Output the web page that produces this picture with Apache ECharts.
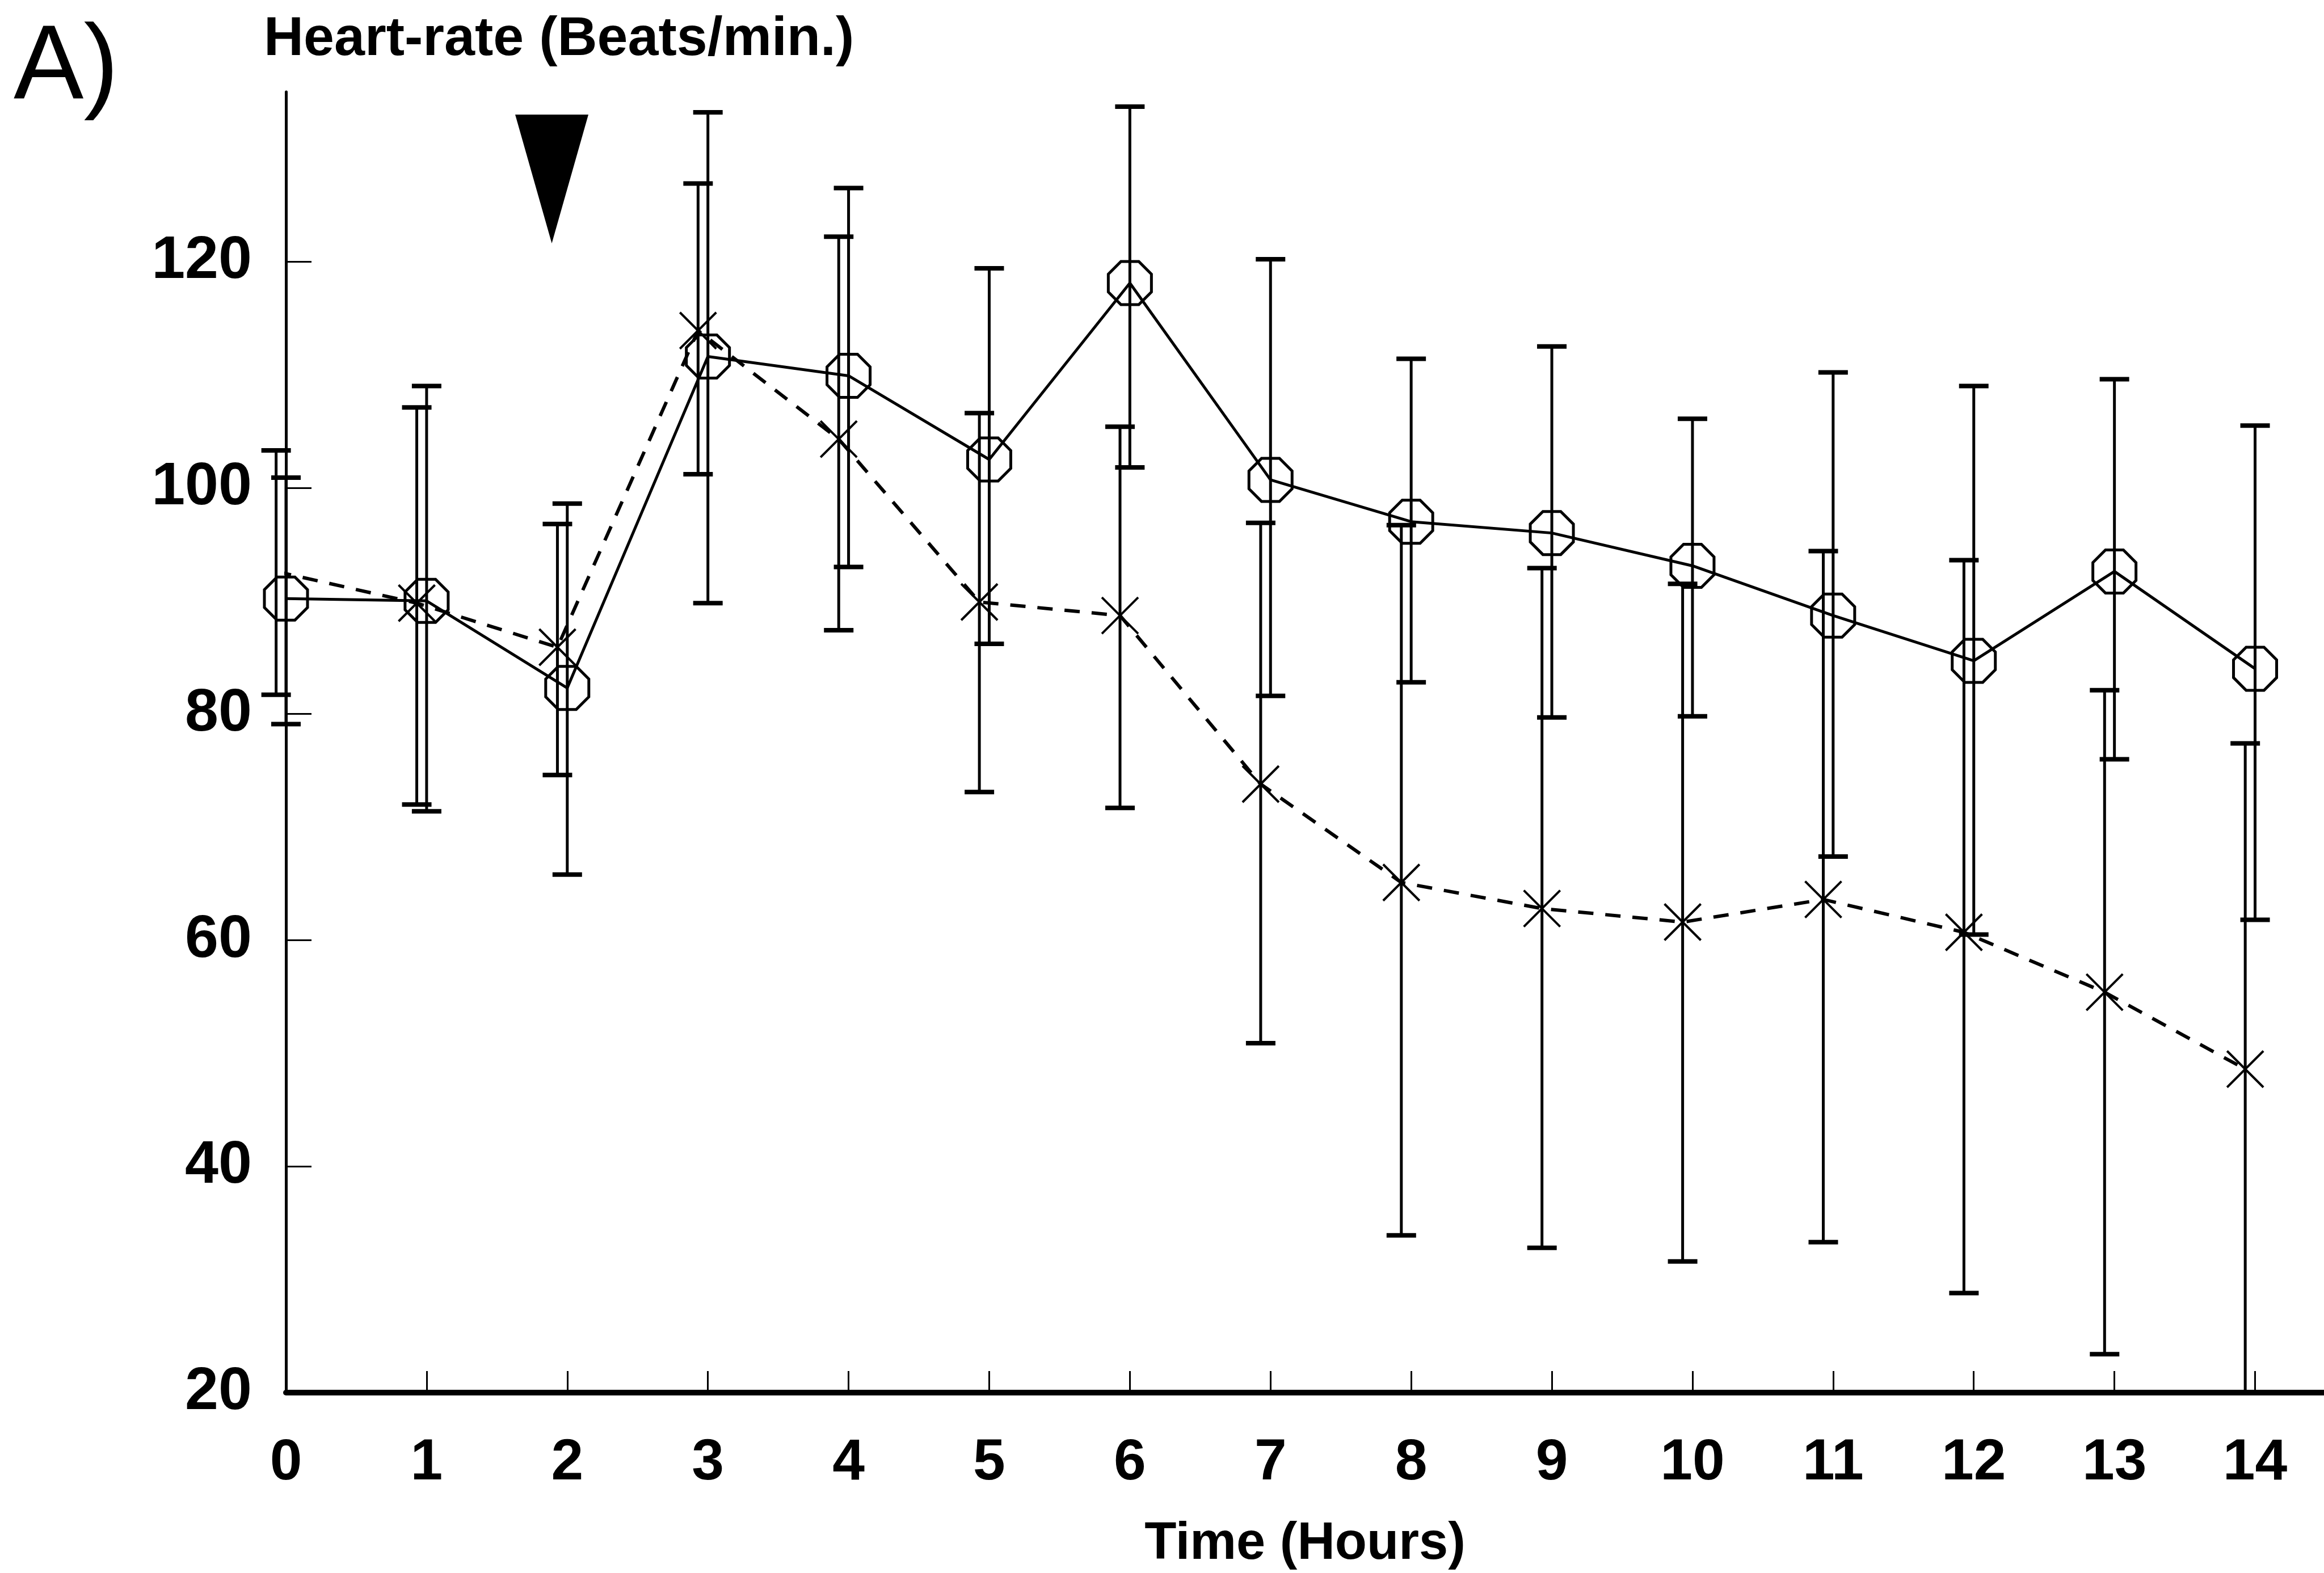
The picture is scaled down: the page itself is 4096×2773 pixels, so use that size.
<!DOCTYPE html>
<html>
<head>
<meta charset="utf-8">
<style>
html, body { margin: 0; padding: 0; background: #fff; }
#main { width: 4096px; height: 2773px; }
</style>
<script src="https://cdn.jsdelivr.net/npm/echarts@6/dist/echarts.min.js"></script>
</head>
<body>
<div id="main"></div>
<script>
// time points (hours)
var hours = [0, 1, 2, 3, 4, 5, 6, 7, 8, 9, 10, 11, 12, 13, 14];
var yTicks = [20, 40, 60, 80, 100, 120];

// open octagon series (solid line)
var circleMean = [90.2, 90.0, 82.3, 111.6, 109.9, 102.5, 118.1, 100.7, 97.0, 96.0, 93.1, 88.7, 84.7, 92.6, 84.0];
var circleHigh = [100.9, 109.0, 98.6, 133.2, 126.5, 119.4, 133.7, 120.2, 111.4, 112.5, 106.1, 110.2, 109.0, 109.6, 105.5];
var circleLow = [79.1, 71.4, 65.8, 89.8, 93.0, 86.2, 101.8, 81.6, 82.8, 79.7, 79.8, 67.4, 60.5, 76.0, 61.8];

// cross series (dashed line)
var crossMean = [92.6, 89.8, 85.9, 113.9, 104.3, 89.9, 88.7, 73.8, 65.1, 62.8, 61.6, 63.6, 60.7, 55.4, 48.6];
var crossHigh = [103.3, 107.1, 96.8, 126.9, 122.2, 106.6, 105.4, 96.9, 96.7, 92.9, 91.5, 94.4, 93.6, 82.1, 77.4];
var crossLow = [81.7, 72.0, 74.6, 101.2, 87.4, 73.1, 71.7, 50.9, 33.9, 32.8, 31.6, 33.3, 28.8, 23.4, 20.0];

// dose given just before 2 h (black triangle)
var doseAt = [1.89, 127.3];

var main = echarts.init(document.getElementById('main'));

var font = '"Liberation Sans", Arial, sans-serif';
var crossShift = -0.07; // cross points sit a little left of the tick

function points(ys, shift) {
	var out = [];
	for (var i = 0; i < hours.length; i++) {
		out.push([hours[i] + shift, ys[i]]);
	}
	return out;
}

function bars(lo, hi, shift) {
	var out = [];
	for (var i = 0; i < hours.length; i++) {
		out.push([hours[i] + shift, lo[i], hi[i]]);
	}
	return out;
}

function renderBar(params, api) {
	var x = api.value(0);
	var top = api.coord([x, api.value(2)]);
	var bot = api.coord([x, api.value(1)]);
	var half = 26;
	var st = { stroke: '#000', lineWidth: 5 };
	var cap = { stroke: '#000', lineWidth: 8 };
	return {
		type: 'group',
		children: [
			{ type: 'line', shape: { x1: top[0], y1: top[1], x2: bot[0], y2: bot[1] }, style: st },
			{ type: 'line', shape: { x1: top[0] - half, y1: top[1], x2: top[0] + half, y2: top[1] }, style: cap },
			{ type: 'line', shape: { x1: bot[0] - half, y1: bot[1], x2: bot[0] + half, y2: bot[1] }, style: cap }
		]
	};
}

var octagon = 'path://M29.3,0L70.7,0L100,29.3L100,70.7L70.7,100L29.3,100L0,70.7L0,29.3Z';
var cross = 'path://M0,0L100,100M100,0L0,100';

var option = {
	animation: false,
	backgroundColor: '#fff',
	grid: { left: 504, right: 0, top: 162, bottom: 318, containLabel: false, outerBoundsMode: 'none' },
	graphic: [
		{ type: 'text', left: 24, top: 29, style: { text: 'A)', font: '185px ' + font, fill: '#000' } },
		{ type: 'text', left: 465, top: 22, style: { text: 'Heart-rate (Beats/min.)', font: 'bold 97px ' + font, fill: '#000' } }
	],
	xAxis: {
		type: 'value',
		min: 0,
		max: 14.49,
		interval: 1,
		name: 'Time (Hours)',
		nameLocation: 'middle',
		nameGap: 222,
		nameTextStyle: { fontSize: 92, fontWeight: 'bold', fontFamily: font, color: '#000' },
		axisLine: { show: true, lineStyle: { color: '#000', width: 10 } },
		axisTick: { show: true, inside: true, length: 38, lineStyle: { color: '#000', width: 3 }, customValues: hours },
		axisLabel: { margin: 74, fontSize: 102, fontWeight: 'bold', fontFamily: font, color: '#000', customValues: hours },
		splitLine: { show: false }
	},
	yAxis: {
		type: 'value',
		min: 20,
		max: 135,
		interval: 20,
		axisLine: { show: true, lineStyle: { color: '#000', width: 5 } },
		axisTick: { show: true, inside: true, length: 45, lineStyle: { color: '#000', width: 3 }, customValues: yTicks },
		axisLabel: { margin: 60, fontSize: 106, fontWeight: 'bold', fontFamily: font, color: '#000', customValues: yTicks },
		splitLine: { show: false }
	},
	series: [
		{
			name: 'circle bars',
			type: 'custom',
			renderItem: renderBar,
			encode: { x: 0, y: [1, 2] },
			data: bars(circleLow, circleHigh, 0),
			silent: true,
			z: 2
		},
		{
			name: 'cross bars',
			type: 'custom',
			renderItem: renderBar,
			encode: { x: 0, y: [1, 2] },
			data: bars(crossLow, crossHigh, crossShift),
			silent: true,
			z: 2
		},
		{
			name: 'circle',
			type: 'line',
			data: points(circleMean, 0),
			symbol: octagon,
			symbolSize: 76,
			itemStyle: { color: 'rgba(0,0,0,0)', borderColor: '#000', borderWidth: 5 },
			lineStyle: { color: '#000', width: 5, type: 'solid' },
			silent: true,
			z: 3
		},
		{
			name: 'cross',
			type: 'line',
			data: points(crossMean, crossShift),
			symbol: cross,
			symbolSize: 64,
			itemStyle: { color: '#000', borderColor: '#000', borderWidth: 4 },
			lineStyle: { color: '#000', width: 6, type: [27, 21] },
			silent: true,
			z: 3,
			markPoint: {
				silent: true,
				symbol: 'triangle',
				symbolRotate: 180,
				symbolSize: [129, 227],
				label: { show: false },
				itemStyle: { color: '#000' },
				data: [{ coord: doseAt, symbol: 'triangle', symbolRotate: 180, symbolSize: [129, 227] }]
			}
		}
	]
};
main.setOption(option);
</script>
</body>
</html>
